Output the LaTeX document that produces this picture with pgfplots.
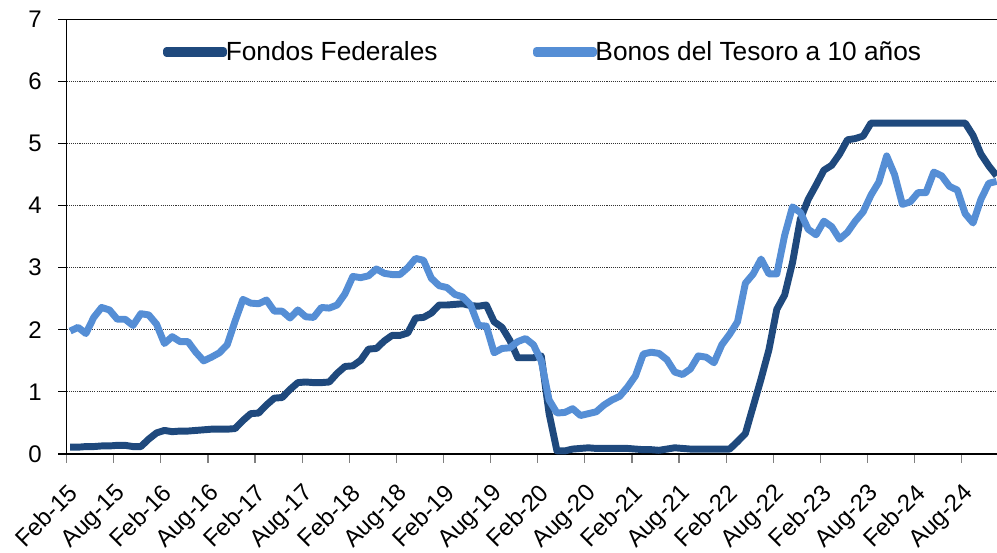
\documentclass[border=0pt]{standalone}
\usepackage{pgfplots}
\pgfplotsset{compat=1.18}
\usepackage{pgfplotstable}
\usepackage{fontspec}
\setmainfont{Liberation Sans}
\definecolor{fed}{HTML}{1F497D}
\definecolor{bond}{HTML}{558ED5}
\pgfplotstableread{
x ff t10
0 0.11 1.98
1 0.11 2.04
2 0.12 1.94
3 0.12 2.20
4 0.13 2.36
5 0.13 2.32
6 0.14 2.17
7 0.14 2.17
8 0.12 2.07
9 0.12 2.26
10 0.24 2.24
11 0.34 2.09
12 0.38 1.78
13 0.36 1.89
14 0.37 1.81
15 0.37 1.81
16 0.38 1.64
17 0.39 1.50
18 0.40 1.56
19 0.40 1.63
20 0.40 1.76
21 0.41 2.14
22 0.54 2.49
23 0.65 2.43
24 0.66 2.42
25 0.79 2.48
26 0.90 2.30
27 0.91 2.30
28 1.04 2.19
29 1.15 2.32
30 1.16 2.21
31 1.15 2.20
32 1.15 2.36
33 1.16 2.35
34 1.30 2.40
35 1.41 2.58
36 1.42 2.86
37 1.51 2.84
38 1.69 2.87
39 1.70 2.98
40 1.82 2.91
41 1.91 2.89
42 1.91 2.89
43 1.95 3.00
44 2.19 3.15
45 2.20 3.12
46 2.27 2.83
47 2.40 2.71
48 2.40 2.68
49 2.41 2.57
50 2.42 2.53
51 2.39 2.40
52 2.38 2.07
53 2.40 2.06
54 2.13 1.63
55 2.04 1.70
56 1.83 1.71
57 1.55 1.81
58 1.55 1.86
59 1.55 1.76
60 1.58 1.50
61 0.65 0.87
62 0.05 0.66
63 0.05 0.67
64 0.08 0.73
65 0.09 0.62
66 0.10 0.65
67 0.09 0.68
68 0.09 0.79
69 0.09 0.87
70 0.09 0.93
71 0.09 1.08
72 0.08 1.26
73 0.07 1.61
74 0.07 1.64
75 0.06 1.62
76 0.08 1.52
77 0.10 1.32
78 0.09 1.28
79 0.08 1.37
80 0.08 1.58
81 0.08 1.56
82 0.08 1.47
83 0.08 1.76
84 0.08 1.93
85 0.20 2.13
86 0.33 2.75
87 0.77 2.90
88 1.21 3.14
89 1.68 2.90
90 2.33 2.90
91 2.56 3.52
92 3.08 3.98
93 3.78 3.89
94 4.10 3.62
95 4.33 3.53
96 4.57 3.75
97 4.65 3.66
98 4.83 3.46
99 5.06 3.57
100 5.08 3.75
101 5.12 3.90
102 5.33 4.17
103 5.33 4.38
104 5.33 4.80
105 5.33 4.50
106 5.33 4.02
107 5.33 4.06
108 5.33 4.21
109 5.33 4.21
110 5.33 4.54
111 5.33 4.48
112 5.33 4.31
113 5.33 4.25
114 5.33 3.87
115 5.13 3.72
116 4.83 4.10
117 4.64 4.36
118 4.48 4.39
}\data
\begin{document}
\begin{tikzpicture}
\useasboundingbox (-50pt,-73.5pt) rectangle (697.7pt,340.5pt);
\begin{axis}[
  at={(0pt,0pt)}, anchor=south west,
  scale only axis, width=697.7pt, height=326pt,
  xmin=-0.45, xmax=118.05, ymin=0, ymax=7,
  axis x line*=bottom, axis y line*=left,
  axis line style={-, black, line width=0.9pt},
  ytick={0,1,2,3,4,5,6}, extra y ticks={7},
  extra y tick style={grid style={solid, black, line width=1pt}},
  ymajorgrids,
  grid style={black!80, line width=0.7pt, dash pattern=on 0.8pt off 0.8pt},
  xtick={-0.45,5.55,11.55,17.55,23.55,29.55,35.55,41.55,47.55,53.55,59.55,65.55,71.55,77.55,83.55,89.55,95.55,101.55,107.55,113.55},
  xticklabels={Feb-15,Aug-15,Feb-16,Aug-16,Feb-17,Aug-17,Feb-18,Aug-18,Feb-19,Aug-19,Feb-20,Aug-20,Feb-21,Aug-21,Feb-22,Aug-22,Feb-23,Aug-23,Feb-24,Aug-24},
  tick align=outside, major tick length=6.5pt,
  xtick style={draw=gray, line width=0.9pt},
  ytick style={draw=black, line width=0.8pt},
  ticklabel style={font=\fontsize{18}{21}\selectfont},
  /pgf/number format/assume math mode=true,
  yticklabel style={anchor=east, inner sep=0pt, xshift=-12pt},
  xticklabel style={inner sep=0pt, yshift=-14.5pt, rotate=45, anchor=north east},
  clip=false,
  legend columns=2,
  legend style={draw=none, fill=none, at={(axis description cs:0.1035,0.9248)}, anchor=west, inner sep=0pt,
    font=\fontsize{19.7}{23}\selectfont, column sep=0pt,
    /tikz/every odd column/.append style={column sep=-1pt},
    /tikz/every even column/.append style={column sep=71.5pt},
    nodes={inner sep=0pt}},
  legend image code/.code={\draw[#1, line cap=round] (2.6pt,0pt) -- (40.1pt,0pt); \path (0pt,-1pt) rectangle (42.75pt,1pt);},
]
\addplot[fed, line width=5.2pt, line join=round] table[x=x, y=ff] {\data};
\addlegendentry{Fondos Federales}
\addplot[bond, line width=5.2pt, line join=round] table[x=x, y=t10] {\data};
\addlegendentry{Bonos del Tesoro a 10 años}
\end{axis}
\end{tikzpicture}
\end{document}
